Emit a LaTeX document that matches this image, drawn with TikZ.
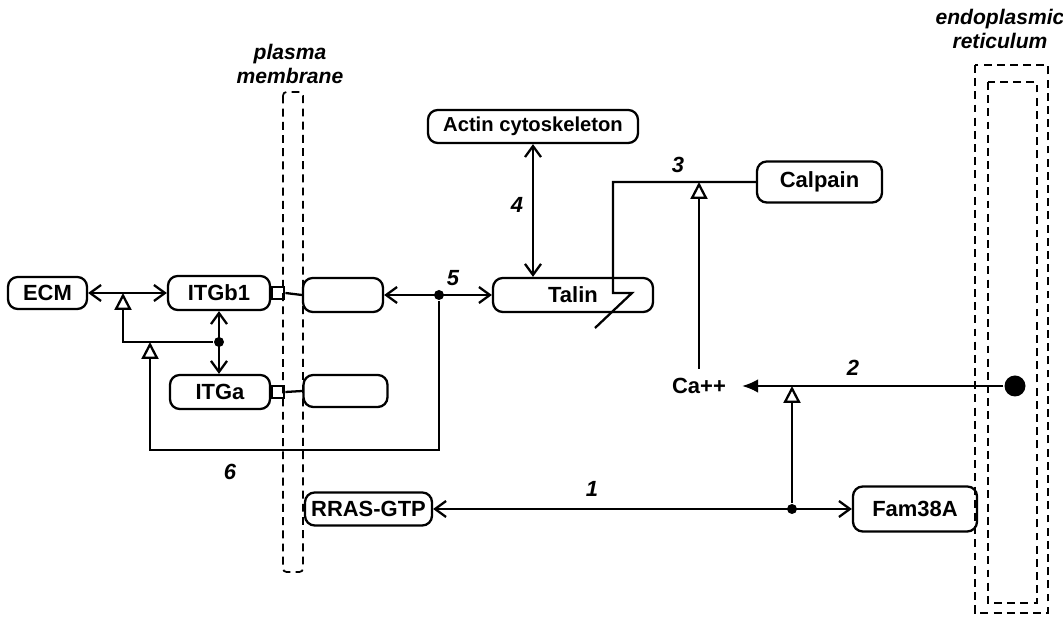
\documentclass[tikz,border=0pt]{standalone}
\usepackage{fontspec}
\setmainfont{Liberation Sans}
\usetikzlibrary{arrows.meta, positioning, calc}

\begin{document}
\begin{tikzpicture}[
        x=0.02cm, y=-0.02cm,
        >={Straight Barb[length=2.2mm, width=3.2mm]},
        font=\fontsize{12.5}{14}\selectfont\bfseries,
        line width=1.3pt,
        box/.style={rectangle, rounded corners=5.5pt, draw=black, align=center, inner sep=0pt},
        sq/.style={rectangle, draw=black, minimum size=0.24cm, inner sep=0pt},
        dot/.style={circle, fill=black, inner sep=0pt, minimum size=0.2cm},
        mem/.style={draw=black, line width=1pt, dash pattern=on 4.5pt off 3pt},
        lbl/.style={font=\fontsize{12.5}{13.5}\selectfont\bfseries\itshape, align=center},
        link/.style={<->},
        inh/.style={-{Triangle[open, length=0.34cm, width=0.34cm]}}
    ]
        \useasboundingbox (0,0) rectangle (1063,617);

        \draw[mem, rounded corners=2pt] (283,92) rectangle (303,572);
        \draw[mem] (975,65) rectangle (1048,613);
        \draw[mem] (988,82) rectangle (1037,603);
        \node[lbl, font=\fontsize{12}{13.5}\selectfont\bfseries\itshape] (pmlabel) at (290,64) {plasma\\membrane};
        \node[lbl, font=\fontsize{12}{13.5}\selectfont\bfseries\itshape] (erlabel) at (1000,29) {endoplasmic\\reticulum};

        \node[box, minimum width=1.58cm, minimum height=0.64cm] (ecm) at (47.5,293) {ECM};
        \node[box, minimum width=2.04cm, minimum height=0.68cm] (itgb) at (219,293) {ITGb1};
        \node[box, minimum width=2.0cm, minimum height=0.68cm] (itga) at (220,392) {ITGa};
        \node[sq, anchor=west] (sqb) at (itgb.east) {};
        \node[sq, anchor=west] (sqa) at (itga.east) {};
        \node[box, minimum width=1.6cm, minimum height=0.68cm] (recb) at (343,295) {};
        \node[box, minimum width=1.68cm, minimum height=0.64cm] (reca) at (345.5,391) {};
        \node[box, minimum width=4.2cm, minimum height=0.66cm, font=\fontsize{11.5}{13}\selectfont\bfseries] (actin) at (533,126.5) {Actin cytoskeleton};
        \node[box, minimum width=3.2cm, minimum height=0.68cm] (talin) at (573,295) {Talin};
        \node[box, minimum width=2.5cm, minimum height=0.82cm] (calpain) at (819.5,182) {Calpain};
        \node[inner xsep=0.3cm, inner ysep=0.17cm] (ca) at (699,386) {Ca++};
        \node[box, minimum width=2.54cm, minimum height=0.66cm] (rras) at (368.5,509) {RRAS-GTP};
        \node[box, minimum width=2.48cm, minimum height=0.9cm] (fam) at (915,509) {Fam38A};

        \node[dot] (dotb) at (219,342) {};
        \node[dot] (dotr) at (439,295) {};
        \node[dot] (dotf) at (792,509) {};
        \node[circle, fill=black, inner sep=0pt, minimum size=0.42cm] (erdot) at (1015,386) {};
        \coordinate (tecm) at (123,293);
        \coordinate (back) at (150,450);
        \coordinate (cut) at (613,293);

        \draw[link] (ecm) -- (itgb);
        \draw[link] (dotb |- itgb.south) -- (dotb |- itga.north);
        \draw[inh] (dotb) -| (tecm);
        \draw (sqb.east) -- (recb.west);
        \draw (sqa.east) -- (reca.west);
        \draw[link] (recb) -- (talin);
        \draw[inh] (dotr) |- (back) -- (back |- dotb);
        \draw[link] (actin) -- (actin |- talin.north);
        \draw (calpain.west) -| (cut) -- ++(19,0) -- ++(-37,35);
        \draw[inh] (ca.north) -- (ca.north |- calpain.west);
        \draw[-{Latex[length=0.32cm, width=0.27cm]}] (erdot) -- (ca.east);
        \draw[inh] (dotf) -- (dotf |- ca.east);
        \draw[link] (rras) -- (fam);

        \node[lbl] (n1) at (592,489) {1};
        \node[lbl] (n2) at (853,368) {2};
        \node[lbl] (n3) at (678,165) {3};
        \node[lbl] (n4) at (517,205) {4};
        \node[lbl] (n5) at (453,278) {5};
        \node[lbl] (n6) at (230,472) {6};
    \end{tikzpicture}
\end{document}
